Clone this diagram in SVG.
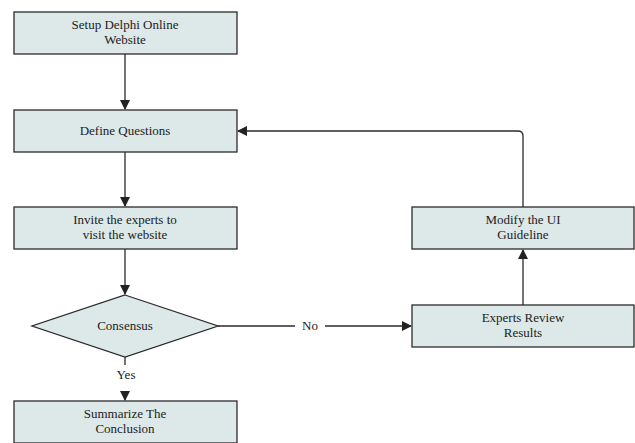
<svg xmlns="http://www.w3.org/2000/svg" width="635" height="443" viewBox="0 0 635 443">
<style>
.box{fill:#dde8e8;stroke:#2b2b2b;stroke-width:1.3}
.t{font-family:"Liberation Serif",serif;font-size:13px;fill:#222;text-anchor:middle}
.c{fill:none;stroke:#2b2b2b;stroke-width:1.3}
</style>
<defs>
<marker id="a" markerWidth="10" markerHeight="10" refX="9" refY="5" orient="auto" markerUnits="userSpaceOnUse">
<path d="M0,0 L10,5 L0,10 Z" fill="#222"/>
</marker>
</defs>
<rect width="635" height="443" fill="#fff"/>
<g id="connectors">
<line class="c" x1="125" y1="54" x2="125" y2="109" marker-end="url(#a)"/>
<line class="c" x1="125" y1="152" x2="125" y2="206" marker-end="url(#a)"/>
<line class="c" x1="125" y1="249" x2="125" y2="294" marker-end="url(#a)"/>
<line class="c" x1="125" y1="357" x2="125" y2="365"/>
<line class="c" x1="125" y1="392" x2="125" y2="400" marker-end="url(#a)"/>
<line class="c" x1="218" y1="326" x2="295" y2="326"/>
<line class="c" x1="325" y1="326" x2="411" y2="326" marker-end="url(#a)"/>
<line class="c" x1="523" y1="305" x2="523" y2="250" marker-end="url(#a)"/>
<path class="c" d="M523,207 L523,136 Q523,131 518,131 L238,131" marker-end="url(#a)"/>
<text class="t" x="126" y="379">Yes</text>
<text class="t" x="310" y="330">No</text>
</g>
<g id="n1"><rect class="box" x="14" y="12" width="223" height="42"/><text class="t" x="125" y="29">Setup Delphi Online</text><text class="t" x="125" y="44">Website</text></g>
<g id="n2"><rect class="box" x="14" y="110" width="223" height="42"/><text class="t" x="125" y="135">Define Questions</text></g>
<g id="n3"><rect class="box" x="14" y="207" width="223" height="42"/><text class="t" x="125" y="224">Invite the experts to</text><text class="t" x="125" y="239">visit the website</text></g>
<g id="n4"><polygon class="box" points="125,295 218,326 125,357 32,326"/><text class="t" x="125" y="330">Consensus</text></g>
<g id="n5"><rect class="box" x="14" y="401" width="223" height="42"/><text class="t" x="125" y="418">Summarize The</text><text class="t" x="125" y="433">Conclusion</text></g>
<g id="n6"><rect class="box" x="412" y="207" width="222" height="42"/><text class="t" x="523" y="224">Modify the UI</text><text class="t" x="523" y="239">Guideline</text></g>
<g id="n7"><rect class="box" x="412" y="305" width="222" height="42"/><text class="t" x="523" y="322">Experts Review</text><text class="t" x="523" y="337">Results</text></g>
</svg>
